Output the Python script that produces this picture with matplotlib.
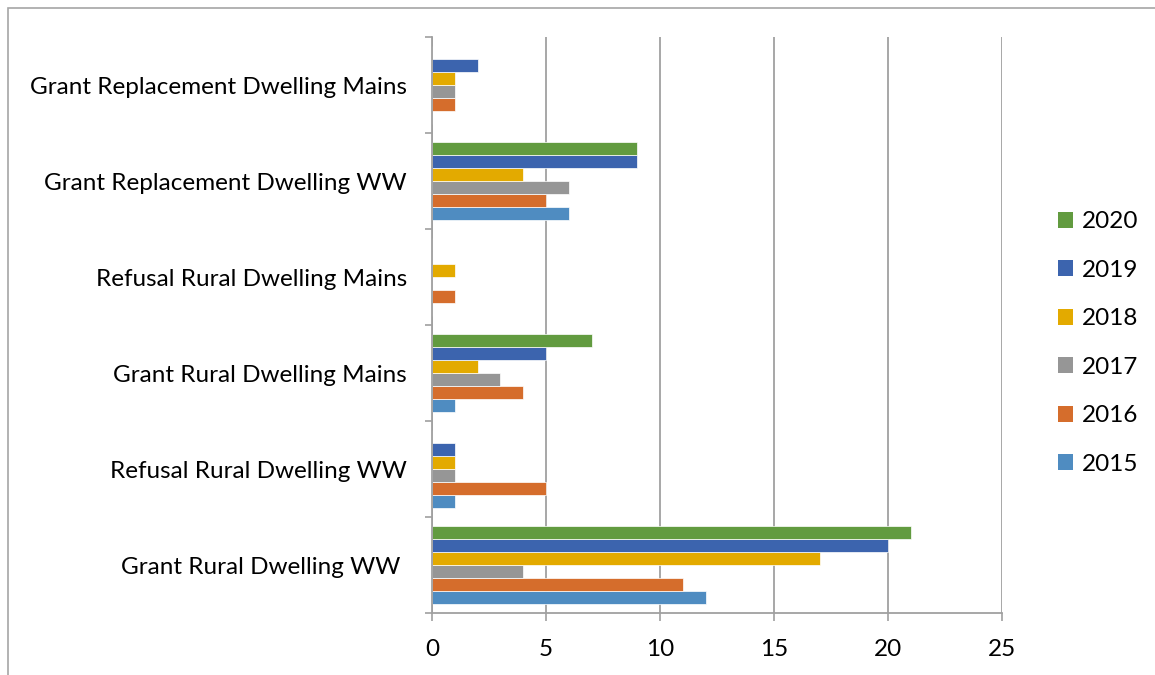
import matplotlib
matplotlib.use("Agg")
import matplotlib.pyplot as plt
from matplotlib.patches import Rectangle, Patch
import numpy as np

plt.rcParams['font.family'] = ['Lato', 'DejaVu Sans']

# categories, top to bottom as shown
categories = ["Grant Replacement Dwelling Mains",
              "Grant Replacement Dwelling WW",
              "Refusal Rural Dwelling Mains",
              "Grant Rural Dwelling Mains",
              "Refusal Rural Dwelling WW",
              "Grant Rural Dwelling WW "]
years = ["2015", "2016", "2017", "2018", "2019", "2020"]

v2015 = [0, 6, 0, 1, 1, 12]
v2016 = [1, 5, 1, 4, 5, 11]
v2017 = [1, 6, 0, 3, 1, 4]
v2018 = [1, 4, 1, 2, 1, 17]
v2019 = [2, 9, 0, 5, 1, 20]
v2020 = [0, 9, 0, 7, 0, 21]
series = [v2015, v2016, v2017, v2018, v2019, v2020]
colors = ["#4F8CC1", "#D56D2C", "#969696", "#E3AA00", "#3C64AE", "#629B40"]

fs = 17.5

fig = plt.figure(figsize=(11.55, 6.75), dpi=100)
ax = fig.add_axes([432 / 1155, 1 - 613 / 675, 570 / 1155, 576 / 675])

# chart frame (cropped on right/bottom in the original)
fig.patches.append(Rectangle((8 / 1155, -0.1), 1.2, 1 - 8 / 675 + 0.1,
                             transform=fig.transFigure, fill=False,
                             edgecolor="#A6A6A6", linewidth=1.2))

pos = np.arange(len(categories))
h = 13 / 96
for i, (vals, col) in enumerate(zip(series, colors)):
    ax.barh(pos + (2.5 - i) * h, vals, height=h, color=col,
            edgecolor="white", linewidth=0.5, zorder=2)

ax.set_xlim(0, 25)
ax.set_ylim(-0.5, len(categories) - 0.5)
ax.invert_yaxis()

ax.set_xticks(np.arange(0, 26, 5))
ax.grid(axis="x", color="#A0A0A0", linewidth=1.3, zorder=0)
ax.set_axisbelow(True)

ax.set_yticks(np.arange(-0.5, len(categories), 1.0))
ax.set_yticklabels([])
ax.set_yticks(pos, minor=True)
ax.set_yticklabels(categories, minor=True)
ax.tick_params(axis="y", which="minor", length=0, pad=18, labelsize=fs)
ax.tick_params(axis="y", which="major", length=5, width=1.2, color="#A0A0A0")
ax.tick_params(axis="x", length=6, width=1.2, color="#A0A0A0", pad=13, labelsize=fs)

for s in ["top", "right"]:
    ax.spines[s].set_visible(False)
for s in ["left", "bottom"]:
    ax.spines[s].set_color("#A0A0A0")
    ax.spines[s].set_linewidth(1.3)

handles = [Patch(facecolor=c) for c in colors][::-1]
fig.legend(handles, years[::-1], loc="center left",
           bbox_to_anchor=(1058 / 1155, 1 - 343 / 675), frameon=False,
           fontsize=fs, handlelength=0.62, handleheight=0.62,
           handletextpad=0.35, labelspacing=1.13, borderpad=0,
           borderaxespad=0)

fig.savefig("out.png", dpi=100)
